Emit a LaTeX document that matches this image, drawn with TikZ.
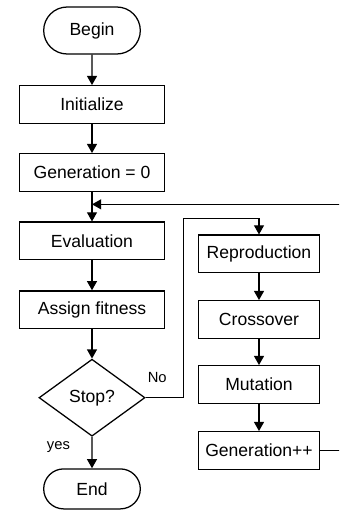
\documentclass[tikz,border=0pt]{standalone}
\usepackage{fontspec}
\setmainfont{Liberation Sans}
\usetikzlibrary{shapes.geometric,shapes.misc,arrows,arrows.meta,calc}
\tikzstyle{startstop}=[rounded rectangle,minimum width=2.65cm,minimum height=1.175cm,text centered,draw=black,line width=0.9pt]
\tikzstyle{process}=[rectangle,minimum width=3.625cm,minimum height=0.94cm,text centered,draw=black,line width=0.9pt]
\tikzstyle{operator}=[rectangle,minimum width=3.025cm,minimum height=0.94cm,text centered,draw=black,line width=0.9pt]
\tikzstyle{decision}=[diamond,minimum width=2.65cm,minimum height=1.925cm,inner sep=0pt,text centered,draw=black,line width=0.9pt]
\tikzstyle{branch}=[font=\fontsize{10.5}{12}\selectfont]
\tikzstyle{arrow}=[line width=0.9pt,-{Triangle[length=2.3mm,width=2.5mm]}]

\begin{document}
\begin{tikzpicture}[node distance=1.7cm,font=\fontsize{12.5}{15}\selectfont]
            \useasboundingbox (-2.3,0.7625) rectangle (6.175,-11.9875);
            \clip (-2.3,0.7625) rectangle (6.175,-11.9875);
            \node (begin)[startstop]{Begin};
            \node (init)[process,below of=begin,yshift=-0.15cm]{Initialize};
            \node (gen0)[process,below of=init,yshift=0cm]{Generation = 0};
            \node (eval)[process,below of=gen0,yshift=-0.01cm]{Evaluation};
            \node (fitness)[process,below of=eval,yshift=-0.02cm]{Assign fitness};
            \node (stop)[decision,below of=fitness,yshift=-0.5cm]{Stop?};
            \node (end)[startstop,below of=stop,yshift=-0.58cm,minimum height=1cm]{End};
            \node (repro)[operator,right of=eval,xshift=2.475cm,yshift=-0.325cm]{Reproduction};
            \node (cross)[operator,below of=repro,yshift=0.06cm]{Crossover};
            \node (mut)[operator,below of=cross,yshift=0.075cm]{Mutation};
            \node (genpp)[operator,below of=mut,yshift=0.05cm]{Generation++};
            \coordinate (join) at ($(gen0.south)!0.42!(eval.north)$);
            \coordinate (loop) at ([xshift=0.8cm]genpp.east);
            \draw [arrow] (begin) -- (init);
            \draw [arrow] (init) -- (gen0);
            \draw [arrow] (gen0) -- (eval);
            \draw [arrow] (eval) -- (fitness);
            \draw [arrow] (fitness) -- (stop);
            \draw [arrow] (stop) -- (end);
            \draw [arrow] (stop.east) -- ++(0.95,0) |- ([yshift=0.4cm]repro.north) -- (repro.north);
            \draw [arrow] (repro) -- (cross);
            \draw [arrow] (cross) -- (mut);
            \draw [arrow] (mut) -- (genpp);
            \draw [arrow] (genpp.east) -- (loop) |- (join);
            \node (no)[branch] at ([xshift=0.29cm,yshift=0.5cm]stop.east){No};
            \node (yes)[branch] at ([xshift=-0.84cm,yshift=-0.25cm]stop.south){yes};
        \end{tikzpicture}
\end{document}
